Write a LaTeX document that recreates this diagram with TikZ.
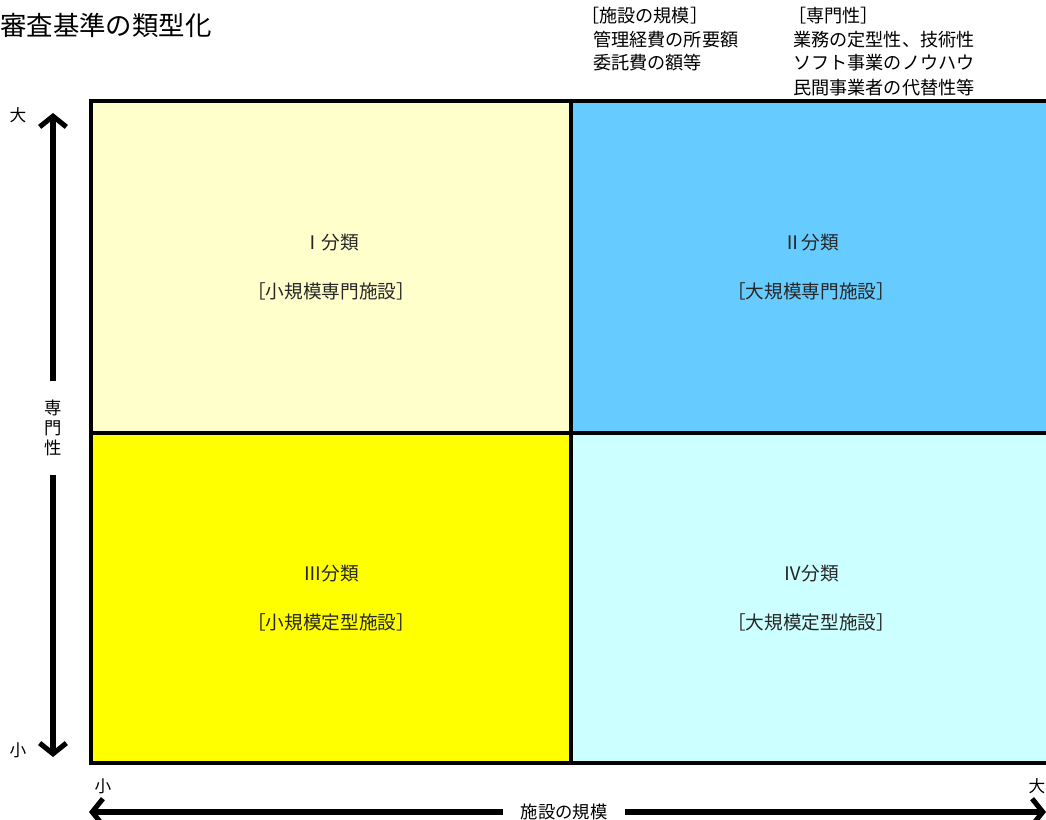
\documentclass[tikz,border=0pt]{standalone}
\usepackage{fontspec}
\setmainfont{Noto Sans CJK JP}
\usepackage{tikz}
\usetikzlibrary{positioning, arrows.meta, calc}

\definecolor{paleyellow}{HTML}{FFFFCC}
\definecolor{skyblue}{HTML}{66CCFF}
\definecolor{brightyellow}{HTML}{FFFF00}
\definecolor{palecyan}{HTML}{CCFFFF}

\begin{document}
\begin{tikzpicture}[x=0.75pt, y=-0.75pt,
        axisarrow/.style={line width=3.8pt, -{Straight Barb[length=8pt, width=20pt]}},
        axislabel/.style={font=\fontsize{13}{15}\selectfont},
        endlabel/.style={font=\fontsize{12.5}{14}\selectfont},
        quadlabel/.style={font=\fontsize{14}{16}\selectfont, text=black!85},
        notelabel/.style={font=\fontsize{13.6}{15}\selectfont, anchor=west, inner sep=0pt}]
            \def\xleft{91}
            \def\xmid{571}
            \def\xright{1060}
            \def\ytop{101}
            \def\ymid{433}
            \def\ybot{763}

            \useasboundingbox (0,0) rectangle (1046,820);
            \clip (0,0) rectangle (1046,820);

            % title
            \node[anchor=west, inner sep=0pt, font=\fontsize{19.8}{22}\selectfont] (title) at (0,25) {審査基準の類型化};

            % notes top right
            \node[notelabel] (scalehead) at (581,16) {［施設の規模］};
            \node[notelabel] (scaleone) at (593,40) {管理経費の所要額};
            \node[notelabel] (scaletwo) at (593,63) {委託費の額等};
            \node[notelabel] (experthead) at (788,16) {［専門性］};
            \node[notelabel] (expertone) at (793,40) {業務の定型性、技術性};
            \node[notelabel] (experttwo) at (793,63) {ソフト事業のノウハウ};
            \node[notelabel] (expertthree) at (793,88) {民間事業者の代替性等};

            % quadrants
            \foreach \xa/\ya/\xb/\yb/\col in {\xleft/\ytop/\xmid/\ymid/paleyellow,
                                             \xmid/\ytop/\xright/\ymid/skyblue,
                                             \xleft/\ymid/\xmid/\ybot/brightyellow,
                                             \xmid/\ymid/\xright/\ybot/palecyan}
            {
                \draw[black, line width=2.6pt, fill=\col] (\xa,\ya) rectangle (\xb,\yb);
            }

            % quadrant labels
            \foreach \name/\x/\y/\num/\kind in {one/331/267/Ⅰ/小規模専門施設,
                                                two/811/267/Ⅱ/大規模専門施設,
                                                three/331/598/Ⅲ/小規模定型施設,
                                                four/811/598/Ⅳ/大規模定型施設}
            {
                \node[quadlabel] (num\name) at (\x,\y-24) {\num 分類};
                \node[quadlabel] (kind\name) at (\x,\y+24) {［\kind］};
            }

            % vertical axis
            \coordinate (vtop) at (53,113);
            \coordinate (vbot) at (53,757);
            \node[axislabel, align=center, inner ysep=14pt] (vlabel) at (53,428) {専\\門\\性};
            \draw[axisarrow] (vlabel.north) -- (vtop);
            \draw[axisarrow] (vlabel.south) -- (vbot);
            \node[endlabel] (vbig) at (18,115) {大};
            \node[endlabel] (vsmall) at (18,750) {小};

            % horizontal axis
            \coordinate (hleft) at (89,812);
            \coordinate (hright) at (1046,812);
            \node[axislabel, inner xsep=13pt] (hlabel) at (564,812) {施設の規模};
            \draw[axisarrow] (hlabel.west) -- (hleft);
            \draw[axisarrow] (hlabel.east) -- (hright);
            \node[endlabel] (hsmall) at (103,786) {小};
            \node[endlabel] (hbig) at (1037,786) {大};
        \end{tikzpicture}
\end{document}
